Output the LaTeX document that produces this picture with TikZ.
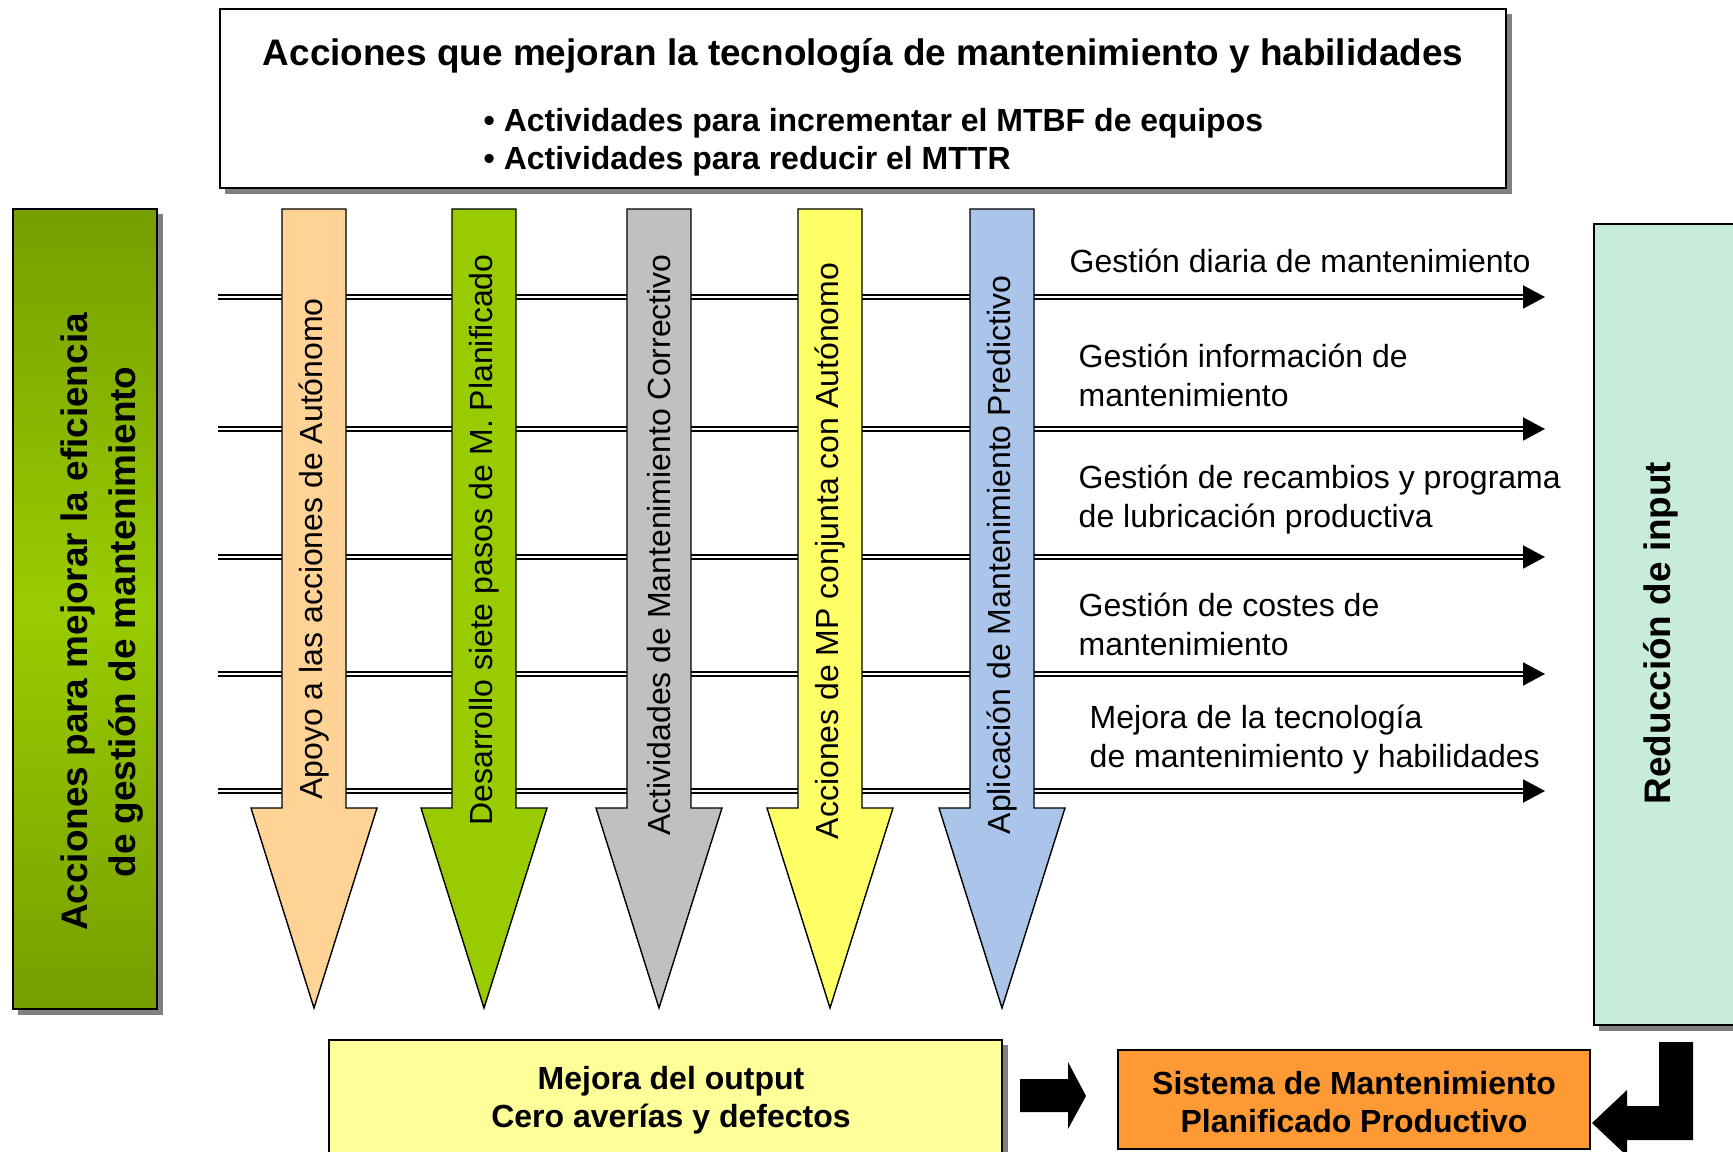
\documentclass[tikz,border=0pt]{standalone}
\usepackage{fontspec}
\setmainfont{Liberation Sans}
\usetikzlibrary{arrows.meta,shadows,positioning}

\definecolor{peach}{RGB}{255,210,150}
\definecolor{leaf}{RGB}{153,204,0}
\definecolor{olive}{RGB}{118,158,0}
\definecolor{silver}{RGB}{192,192,192}
\definecolor{lemon}{RGB}{255,255,102}
\definecolor{sky}{RGB}{170,196,234}
\definecolor{mint}{RGB}{200,236,218}
\definecolor{cream}{RGB}{255,255,153}
\definecolor{tangerine}{RGB}{255,153,51}

\newcommand{\bigtxt}{\fontsize{10.5}{13.4}\selectfont\bfseries}
\newcommand{\smalltxt}{\fontsize{9.1}{10.9}\selectfont}

\tikzset{
  box/.style={draw=black, line width=0.6pt, inner sep=0pt,
    drop shadow={shadow xshift=0.055cm, shadow yshift=-0.055cm, fill=black!50, opacity=1}},
  flow/.style={double=white, double distance=0.02cm, line width=0.02cm,
    -{Triangle[length=0.22cm,width=0.23cm]}},
  bigarrow/.style={draw=black, thin},
  lbl/.style={font=\fontsize{9.1}{11.1}\selectfont, inner sep=0pt, align=left, anchor=west},
}

\begin{document}
\begin{tikzpicture}[x=0.01cm, y=-0.01cm]
\useasboundingbox (0,0) rectangle (1733,1152);

% top box
\node[box, fill=white, minimum width=12.86cm, minimum height=1.79cm] (tech) at (863,98.5) {};
\node[font=\bigtxt] (techtitle) at (863,56) {Acciones que mejoran la tecnología de mantenimiento y habilidades};
\node[font=\smalltxt\bfseries, align=left, anchor=west, inner sep=0pt] (techlist) at (483,142.5)
  {• Actividades para incrementar el MTBF de equipos\\• Actividades para reducir el MTTR};

% left box
\node[box, top color=olive, bottom color=olive, middle color=leaf,
  minimum width=1.44cm, minimum height=8cm] (eff) at (85,609) {};
\node[font=\bigtxt, rotate=90, align=center] (efftxt) at (102,622)
  {Acciones para mejorar la eficiencia\\de gestión de mantenimiento};

% horizontal flows
\foreach \y [count=\i] in {297,429,557,674,791} {
  \coordinate (s\i) at (218,\y);
  \coordinate (e\i) at (1545,\y);
  \draw[flow] (s\i) -- (e\i);
}

% vertical arrows
\foreach \x/\yc/\col/\txt [count=\i] in {
  314/549/peach/Apoyo a las acciones de Autónomo,
  484/540/leaf/Desarrollo siete pasos de M. Planificado,
  659/545/silver/Actividades de Mantenimiento Correctivo,
  830/551/lemon/Acciones de MP conjunta con Autónomo,
  1002/555/sky/Aplicación de Mantenimiento Predictivo} {
  \draw[bigarrow, fill=\col] (\x-32,209) -- (\x+32,209) -- (\x+32,808) -- (\x+63,808)
    -- (\x,1008) -- (\x-63,808) -- (\x-32,808) -- cycle;
  \node[font=\smalltxt, rotate=90] (v\i) at (\x,\yc) {\txt};
}

% labels
\node[lbl] (g1) at (1069,261) {Gestión diaria de mantenimiento};
\node[lbl] (g2) at (1078,375.5) {Gestión información de\\mantenimiento};
\node[lbl] (g3) at (1078,500) {Gestión de recambios y programa\\de lubricación productiva};
\node[lbl] (g4) at (1078,624) {Gestión de costes de\\mantenimiento};
\node[lbl] (g5) at (1089,740) {Mejora de la tecnología\\de mantenimiento y habilidades};

% right box
\node[box, fill=mint, minimum width=1.51cm, minimum height=8.01cm] (inp) at (1669.5,624.5) {};
\node[font=\bigtxt, rotate=90] (inptxt) at (1661,633) {Reducción de input};

% bottom
\node[box, fill=cream, minimum width=6.73cm, minimum height=1.15cm] (out) at (665.5,1097.5) {};
\node[align=center, font=\fontsize{9.1}{10.8}\selectfont\bfseries] (outtxt) at (671,1100)
  {Mejora del output\\Cero averías y defectos};
\node[draw=black, line width=0.6pt, fill=tangerine, inner sep=0pt, minimum width=4.72cm,
  minimum height=0.99cm] (pmp) at (1354,1099.5) {};
\node[align=center, font=\fontsize{9.1}{10.8}\selectfont\bfseries] (pmptxt) at (1354,1102)
  {Sistema de Mantenimiento\\Planificado Productivo};

\fill (1020,1079) -- (1068,1079) -- (1068,1062) -- (1086,1096) -- (1068,1129)
  -- (1068,1112) -- (1020,1112) -- cycle;
\fill (1659,1042) -- (1693,1042) -- (1693,1140) -- (1627,1140) -- (1627,1156)
  -- (1592,1123) -- (1627,1090) -- (1627,1106) -- (1659,1106) -- cycle;
\end{tikzpicture}
\end{document}
